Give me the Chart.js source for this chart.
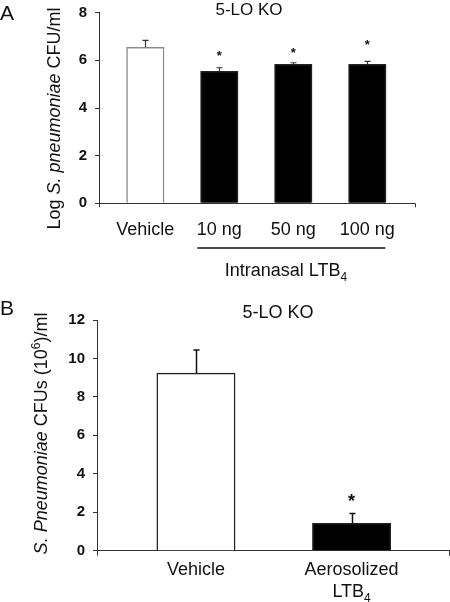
<!DOCTYPE html>
<html>
<head>
<meta charset="utf-8">
<script src="https://cdn.jsdelivr.net/npm/chart.js@4.4.1/dist/chart.umd.min.js"></script>
<style>
    html, body { margin: 0; padding: 0; background: #fff; }
    #wrap { position: relative; width: 450px; height: 602px; }
    .panel { position: absolute; left: 0; }
</style>
</head>
<body>
<div id="wrap">
    <div class="panel" style="top:0;width:450px;height:300px"><canvas id="chartA" width="450" height="300" style="width:450px;height:300px"></canvas></div>
    <div class="panel" style="top:300px;width:450px;height:302px"><canvas id="chartB" width="450" height="302" style="width:450px;height:302px"></canvas></div>
</div>
<script>
// panel A: intranasal LTB4
const groupsA = ['Vehicle', '10 ng', '50 ng', '100 ng'];
const meansA = [6.55, 5.54, 5.83, 5.83];
const errorsA = [0.29, 0.15, 0.07, 0.13];
const starsA = [null, 6.34, 6.47, 6.78];
const ticksA = [0, 2, 4, 6, 8];

// panel B: aerosolized LTB4
const groupsB = ['Vehicle', 'Aerosolized LTB4'];
const meansB = [9.24, 1.42];
const errorsB = [1.2, 0.52];
const starsB = [null, 2.81];
const ticksB = [0, 2, 4, 6, 8, 10, 12];

const FONT = "'Liberation Sans', Arial, Helvetica, sans-serif";
const TEXT = '#111';
const AXIS = '#333';

function partFont(p, size) {
    const s = p.script ? Math.round(size * 0.68) : size;
    return `${p.italic ? 'italic ' : ''}${p.bold ? 'bold ' : ''}${s}px ${FONT}`;
}

// x, y = centre of the text on its baseline
function drawRich(ctx, parts, x, y, size, rotated) {
    ctx.save();
    ctx.translate(x, y);
    if (rotated) ctx.rotate(-Math.PI / 2);
    ctx.textAlign = 'left';
    ctx.textBaseline = 'alphabetic';
    ctx.fillStyle = TEXT;
    let w = 0;
    parts.forEach((p) => {
        ctx.font = partFont(p, size);
        w += ctx.measureText(p.text).width;
    });
    let cx = -w / 2;
    parts.forEach((p) => {
        ctx.font = partFont(p, size);
        let dy = 0;
        if (p.script === 'sup') dy = -size * 0.4;
        if (p.script === 'sub') dy = size * 0.28;
        ctx.fillText(p.text, cx, dy);
        cx += ctx.measureText(p.text).width;
    });
    ctx.restore();
}

function drawErrors(ctx, x, y, means, errors, color, lw, cap) {
    ctx.save();
    ctx.strokeStyle = color;
    ctx.lineWidth = lw;
    means.forEach((m, i) => {
        const px = Math.round(x.getPixelForValue(i)) + 0.5;
        const y0 = y.getPixelForValue(m);
        const y1 = y.getPixelForValue(m + errors[i]);
        ctx.beginPath();
        ctx.moveTo(px, y0);
        ctx.lineTo(px, y1);
        ctx.moveTo(px - cap, y1);
        ctx.lineTo(px + cap, y1);
        ctx.stroke();
    });
    ctx.restore();
}

function drawStars(ctx, x, y, stars, size) {
    ctx.save();
    ctx.fillStyle = TEXT;
    ctx.font = `bold ${size}px ${FONT}`;
    ctx.textAlign = 'center';
    ctx.textBaseline = 'alphabetic';
    stars.forEach((s, i) => {
        if (s === null) return;
        ctx.fillText('*', x.getPixelForValue(i), y.getPixelForValue(s) + size * 0.57);
    });
    ctx.restore();
}

function drawEndTicks(ctx, area, len) {
    ctx.save();
    ctx.strokeStyle = AXIS;
    ctx.lineWidth = 1;
    ctx.beginPath();
    [area.left, area.right].forEach((px) => {
        const xx = Math.round(px) + 0.5;
        ctx.moveTo(xx, area.bottom);
        ctx.lineTo(xx, area.bottom + len);
    });
    ctx.stroke();
    ctx.restore();
}

function drawLetter(ctx, letter, x, y) {
    ctx.save();
    ctx.fillStyle = TEXT;
    ctx.font = `21px ${FONT}`;
    ctx.textAlign = 'left';
    ctx.textBaseline = 'alphabetic';
    ctx.fillText(letter, x, y);
    ctx.restore();
}

function yScale(ticks, width) {
    return {
        min: ticks[0],
        max: ticks[ticks.length - 1],
        afterBuildTicks: (s) => { s.ticks = ticks.map((v) => ({ value: v })); },
        afterFit: (s) => {
            s.width = width;
            // the layout padding already leaves room for the end labels
            s.paddingTop = 0;
            s.paddingBottom = 0;
        },
        grid: { drawOnChartArea: false, drawTicks: true, tickLength: 4, color: AXIS },
        border: { color: AXIS, width: 1 },
        ticks: { padding: 8, color: TEXT, font: { family: FONT, size: 15, weight: 'bold' } },
    };
}

const decorA = {
    id: 'decorA',
    afterDraw(chart) {
        const { ctx, chartArea, scales: { x, y } } = chart;
        drawErrors(ctx, x, y, meansA, errorsA, AXIS, 1.2, 3);
        drawStars(ctx, x, y, starsA, 13);
        drawEndTicks(ctx, chartArea, 4);
        drawRich(ctx, [{ text: 'Log ' }, { text: 'S. pneumoniae', italic: true }, { text: ' CFU/ml' }], 60, 118.5, 18, true);
        drawRich(ctx, [{ text: '5-LO KO' }], 249, 14.5, 17);
        drawLetter(ctx, 'A', 0, 20);

        // bracket under the LTB4 doses
        ctx.save();
        ctx.strokeStyle = '#111';
        ctx.lineWidth = 1.3;
        ctx.beginPath();
        ctx.moveTo(x.getPixelForValue(1) - 22, 248);
        ctx.lineTo(x.getPixelForValue(3) + 18, 248);
        ctx.stroke();
        ctx.restore();
        drawRich(ctx, [{ text: 'Intranasal LTB' }, { text: '4', script: 'sub' }], 286, 276, 18);
    },
};

const labelPartsB = [
    [[{ text: 'Vehicle' }]],
    [[{ text: 'Aerosolized' }], [{ text: 'LTB' }, { text: '4', script: 'sub' }]],
];

const decorB = {
    id: 'decorB',
    afterDraw(chart) {
        const { ctx, chartArea, scales: { x, y } } = chart;
        drawErrors(ctx, x, y, meansB, errorsB, '#111', 1.5, 3);
        drawStars(ctx, x, y, starsB, 18);
        drawEndTicks(ctx, chartArea, 5);
        drawRich(ctx, [{ text: 'S. Pneumoniae', italic: true }, { text: ' CFUs (10' }, { text: '6', script: 'sup' }, { text: ')/ml' }], 47, 133.5, 18, true);
        drawRich(ctx, [{ text: '5-LO KO' }], 278, 17.5, 18);
        drawLetter(ctx, 'B', 0, 15);

        labelPartsB.forEach((lines, i) => {
            lines.forEach((parts, j) => {
                drawRich(ctx, parts, x.getPixelForValue(i), 275 + j * 21.5, 18);
            });
        });
    },
};

new Chart(document.getElementById('chartA').getContext('2d'), {
    type: 'bar',
    data: {
        datasets: [{
            data: meansA.map((v, i) => ({ x: i, y: v })),
            backgroundColor: ['#ffffff', '#000000', '#000000', '#000000'],
            borderColor: ['#8c8c8c', '#222222', '#222222', '#222222'],
            borderWidth: 1.5,
            barThickness: 37.5,
        }],
    },
    options: {
        responsive: false,
        animation: false,
        events: [],
        layout: { padding: { top: 12.7, right: 35.5, left: 0, bottom: 0 } },
        plugins: { legend: { display: false }, tooltip: { enabled: false } },
        scales: {
            x: {
                type: 'linear',
                offset: false,
                min: -0.626,
                max: 3.638,
                afterBuildTicks: (s) => { s.ticks = groupsA.map((_, i) => ({ value: i })); },
                afterFit: (s) => { s.height = 96.7; },
                grid: { display: false, drawTicks: false, offset: false },
                border: { display: true, color: AXIS, width: 1 },
                ticks: {
                    autoSkip: false,
                    maxRotation: 0,
                    padding: 16,
                    color: TEXT,
                    font: { family: FONT, size: 18 },
                    callback: (v) => groupsA[v],
                },
            },
            y: yScale(ticksA, 99),
        },
    },
    plugins: [decorA],
});

new Chart(document.getElementById('chartB').getContext('2d'), {
    type: 'bar',
    data: {
        datasets: [{
            data: meansB.map((v, i) => ({ x: i, y: v })),
            backgroundColor: ['#ffffff', '#000000'],
            borderColor: ['#222222', '#222222'],
            borderWidth: 1.5,
            barThickness: 78.3,
        }],
    },
    options: {
        responsive: false,
        animation: false,
        events: [],
        layout: { padding: { top: 20, right: 1, left: 0, bottom: 0 } },
        plugins: { legend: { display: false }, tooltip: { enabled: false } },
        scales: {
            x: {
                type: 'linear',
                offset: false,
                min: -0.636,
                max: 1.626,
                afterBuildTicks: (s) => { s.ticks = groupsB.map((_, i) => ({ value: i })); },
                afterFit: (s) => { s.height = 51.3; },
                grid: { display: false, drawTicks: false, offset: false },
                border: { display: true, color: AXIS, width: 1 },
                ticks: { display: false },
            },
            y: yScale(ticksB, 97),
        },
    },
    plugins: [decorB],
});
</script>
</body>
</html>
